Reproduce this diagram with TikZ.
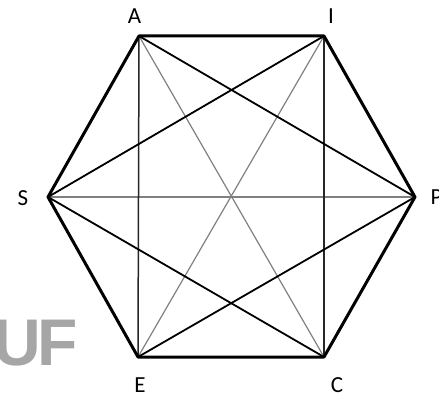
\documentclass[tikz,border=0pt]{standalone}
\usepackage{fontspec}
\setmainfont{Carlito}
\newfontfamily\uffont{Liberation Sans}
\begin{document}
\begin{tikzpicture}[x=1pt,y=-1pt,
  vlabel/.style={font=\fontsize{23}{23}\selectfont, inner sep=0pt, text depth=0pt},
  edgeline/.style={line width=3pt, line join=round, line cap=round},
  shortdiag/.style={line width=1.8pt, black},
  vertline/.style={line width=1.5pt, black!85},
  longdiag/.style={line width=1.2pt, black!50}]
\useasboundingbox (0,0) rectangle (439,398);
\coordinate (A) at (139,36);
\coordinate (I) at (324,36);
\coordinate (P) at (415,197);
\coordinate (C) at (324,357);
\coordinate (E) at (138,357);
\coordinate (S) at (48,197);
% labels
\node[vlabel] (lA) at (134.5,16) {A};
\node[vlabel] (lI) at (331,16) {I};
\node[vlabel, anchor=west] (lP) at (430.5,197) {P};
\node[vlabel] (lC) at (337,385) {C};
\node[vlabel] (lE) at (140,385) {E};
\node[vlabel] (lS) at (23,198) {S};
\node[anchor=base east, inner sep=0pt, text=black!35,
  font=\uffont\bfseries\fontsize{66}{66}\selectfont] (uf) at (78,365) {U\kern-4pt F};
% long diagonals
\draw[longdiag] (A) -- (C);
\draw[longdiag] (I) -- (E);
\draw[longdiag] (S) -- (P);
% verticals
\draw[vertline] (A) -- (E);
\draw[vertline] (I) -- (C);
% short diagonals
\draw[shortdiag] (A) -- (P);
\draw[shortdiag] (I) -- (S);
\draw[shortdiag] (S) -- (C);
\draw[shortdiag] (E) -- (P);
% hexagon
\draw[edgeline] (A) -- (I) -- (P) -- (C) -- (E) -- (S) -- cycle;
\end{tikzpicture}
\end{document}
